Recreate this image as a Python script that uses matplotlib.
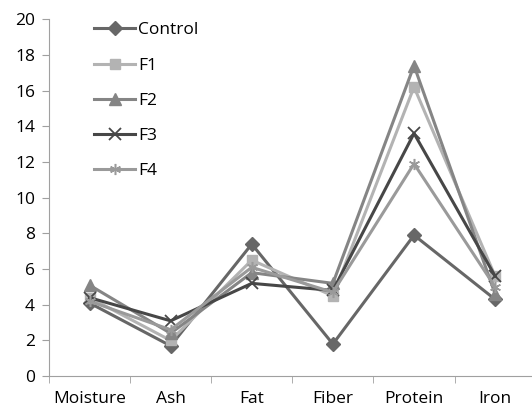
import matplotlib.pyplot as plt
import numpy as np

categories = ['Moisture', 'Ash', 'Fat', 'Fiber', 'Protein', 'Iron']
control = [4.1, 1.7, 7.4, 1.8, 7.9, 4.3]
f1 = [4.4, 2.0, 6.5, 4.5, 16.2, 5.6]
f2 = [5.1, 2.4, 5.8, 5.2, 17.4, 4.6]
f3 = [4.4, 3.1, 5.2, 4.8, 13.6, 5.6]
f4 = [4.2, 2.6, 6.1, 4.7, 11.9, 5.0]

plt.rcParams['font.family'] = ['Open Sans', 'DejaVu Sans']

fig = plt.figure(figsize=(5.32, 4.08), dpi=100)
ax = fig.add_axes([0.092, 0.078, 0.915, 0.875])

x = np.arange(len(categories))
# Zeichnungsreihenfolge wie im Original (Control unten)
ax.plot(x, control, color='#676767', marker='D', markersize=7, lw=2.2, label='Control')
ax.plot(x, f1, color='#b3b3b3', marker='s', markersize=7, lw=2.2, label='F1')
ax.plot(x, f2, color='#858585', marker='^', markersize=8, lw=2.2, label='F2')
ax.plot(x, f3, color='#474747', marker='x', markersize=8, mew=1.3, lw=2.2, label='F3')
ax.plot(x, f4, color='#9a9a9a', marker=(6, 2, 0), markersize=8, mew=1.1, lw=2.2, label='F4')

ax.set_xlim(-0.5, 5.5)
ax.set_ylim(0, 20)
ax.set_yticks(range(0, 21, 2))
ax.set_xticks(x)
ax.set_xticklabels(categories)
ax.set_xticks(np.arange(-0.5, 5.6, 1), minor=True)
ax.tick_params(axis='x', which='major', length=0, pad=11, labelsize=12.5)
ax.tick_params(axis='x', which='minor', length=5, color='#a0a0a0')
ax.tick_params(axis='y', length=5, color='#a0a0a0', labelsize=12.5, pad=5)

for s in ['top', 'right']:
    ax.spines[s].set_visible(False)
for s in ['left', 'bottom']:
    ax.spines[s].set_color('#a0a0a0')

ax.legend(loc='upper left', bbox_to_anchor=(0.06, 1.035), frameon=False,
          fontsize=12.5, handlelength=2.4, labelspacing=1.1, handletextpad=0.15)

fig.savefig('out.png', dpi=100)
